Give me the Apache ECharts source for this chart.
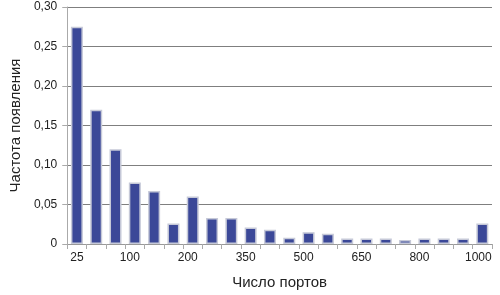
<!DOCTYPE html>
<html>
<head>
<meta charset="utf-8">
<script src="https://cdn.jsdelivr.net/npm/echarts@6/dist/echarts.min.js"></script>
<style>
html,body{margin:0;padding:0;background:#fff;}
#chart{width:500px;height:295px;}
</style>
</head>
<body>
<div id="chart"></div>
<script>
var categories = ['25','','','100','','','200','','','350','','','500','','','650','','','800','','','1000'];
var frequencies = [0.275,0.17,0.12,0.078,0.067,0.026,0.060,0.033,0.033,0.021,0.018,0.008,0.015,0.013,0.007,0.007,0.007,0.005,0.007,0.007,0.007,0.026];
var yTickStep = 0.05;
var xTitle = 'Число портов';
var yTitle = 'Частота появления';

var FONT = '"Liberation Sans", Arial, Helvetica, sans-serif';
var chart = echarts.init(document.getElementById('chart'), null, {renderer:'canvas'});
chart.setOption({
  animation:false,
  backgroundColor:'#ffffff',
  grid:{left:60,right:0,top:7,bottom:50,containLabel:false},
  xAxis:{
    type:'category',
    data:categories,
    boundaryGap:true,
    name:xTitle,
    nameLocation:'middle',
    nameGap:31,
    nameTextStyle:{fontFamily:FONT,fontSize:15,color:'#222'},
    axisLine:{show:true,lineStyle:{color:'#999',width:1}},
    axisTick:{show:true,interval:0,length:5,lineStyle:{color:'#aaa'}},
    axisLabel:{
      interval:0,
      margin:8,
      fontFamily:FONT,fontSize:12,color:'#222',
      formatter:function(v,i){
        if(!v) return '';
        if(i===0) return '{a|'+v+'}';
        if(i===categories.length-1) return '{a|'+v+'}{t| }';
        return '{a|'+v+'}{s| }';
      },
      rich:{
        a:{fontFamily:FONT,fontSize:12,color:'#222'},
        s:{fontFamily:FONT,fontSize:12,width:10},
        t:{fontFamily:FONT,fontSize:12,width:8}
      }
    }
  },
  yAxis:{
    type:'value',
    min:0,max:0.3,interval:yTickStep,
    name:yTitle,
    nameLocation:'middle',
    nameGap:40,
    nameTextStyle:{fontFamily:FONT,fontSize:15,color:'#222'},
    axisLine:{show:true,lineStyle:{color:'#aaa',width:1}},
    axisTick:{show:true,length:5,lineStyle:{color:'#aaa'}},
    axisLabel:{
      margin:10,fontFamily:FONT,fontSize:12,color:'#222',
      formatter:function(v){ return v===0 ? '0' : v.toFixed(2).replace('.',','); }
    },
    splitLine:{show:true,lineStyle:{color:'#7f7f7f',width:1}}
  },
  series:[{
    type:'bar',
    data:frequencies,
    barWidth:12,
    itemStyle:{color:'#3b4898',borderColor:'#c6c9d8',borderWidth:1.5}
  }]
});
</script>
</body>
</html>
